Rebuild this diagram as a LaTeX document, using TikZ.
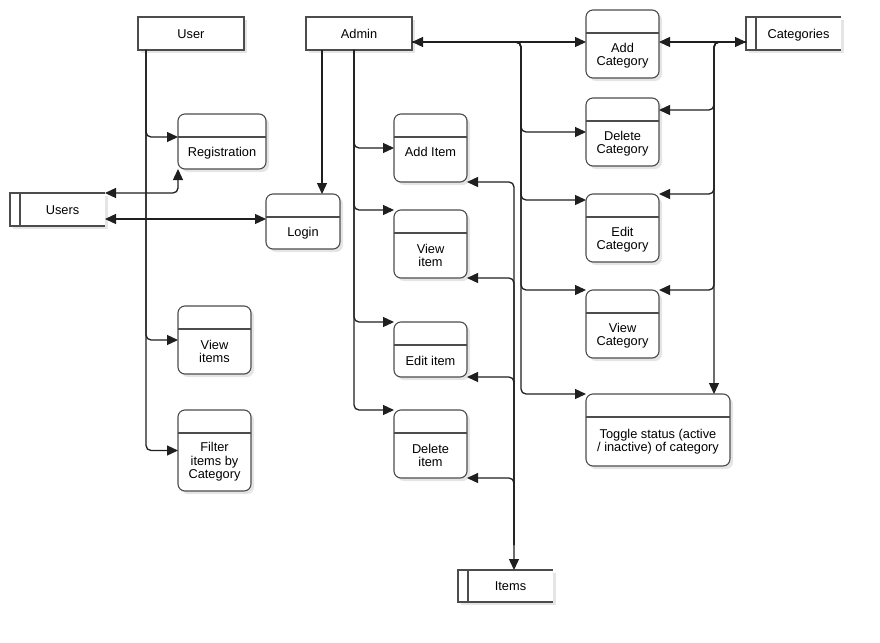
\documentclass[tikz,border=0pt]{standalone}
\usepackage{fontspec}
\setmainfont{Liberation Sans}
\usetikzlibrary{arrows.meta,shadows}
\newcommand\procbox[7][-11.5]{%
  \node[proc, minimum width=#5pt, minimum height=#6pt] (#2) at (#3,#4) {};
  \draw[hdr] ([yshift=-23pt]#2.north west) -- ([yshift=-23pt]#2.north east);
  \node[ptext] (#2-t) at ([yshift=#1pt]#2.center) {#7};}
\newcommand\storebox[6]{%
  \node[store, minimum width=#4pt, minimum height=#5pt] (#1) at (#2,#3) {};
  \draw[hdr] (#1.north east) -- (#1.north west) -- (#1.south west) -- (#1.south east)
    ([xshift=10pt]#1.north west) -- ([xshift=10pt]#1.south west);
  \node[ptext, text height=9.2pt, text depth=0pt] (#1-t) at ([xshift=5pt]#1.center) {#6};}
\begin{document}
\begin{tikzpicture}[x=1pt,y=-1pt,
  font=\fontsize{12.8}{13.4}\selectfont,
  shad/.style={drop shadow={shadow xshift=3pt,shadow yshift=-3pt,fill=black,opacity=0.1}},
  box/.style={draw=black!70, line width=1.1pt, fill=white, outer sep=0pt, inner sep=0pt, shad},
  ent/.style={box, text height=9.2pt, text depth=0pt},
  proc/.style={box, rounded corners=7pt},
  store/.style={fill=white, outer sep=0pt, inner sep=0pt, shad},
  hdr/.style={draw=black!70, line width=1.1pt},
  ptext/.style={align=center, inner sep=0pt},
  tip/.tip={Triangle[length=11pt,width=10pt]},
  conn/.style={draw=black!88, line width=1.3pt, rounded corners=5pt, -tip},
  biconn/.style={conn, tip-tip}]
\useasboundingbox (0,0) rectangle (880,642);

% external entities
\node[ent, minimum width=106pt, minimum height=33pt] (user) at (191,33.5) {User};
\node[ent, minimum width=106pt, minimum height=33pt] (admin) at (359,33.5) {Admin};

% data stores
\storebox{users}{57.5}{209.5}{95}{33}{Users}
\storebox{cats}{793.5}{33.5}{95}{33}{Categories}
\storebox{items}{505.5}{586}{95}{32}{Items}

% processes
\procbox{reg}{222}{141.5}{88}{55}{Registration}
\procbox{login}{303}{221.5}{74}{55}{Login}
\procbox{vitems}{214.5}{340}{73}{68}{View\\items}
\procbox{filter}{214.5}{450.5}{73}{81}{Filter\\items by\\Category}
\procbox[-4]{additem}{430.5}{148}{73}{68}{Add Item}
\procbox{viewitem}{430.5}{244}{73}{68}{View\\item}
\procbox{edititem}{430.5}{349.5}{73}{55}{Edit item}
\procbox{delitem}{430.5}{444}{73}{68}{Delete\\item}
\procbox{addcat}{622.5}{44}{73}{68}{Add\\Category}
\procbox{delcat}{622.5}{132}{73}{68}{Delete\\Category}
\procbox{editcat}{622.5}{228}{73}{68}{Edit\\Category}
\procbox{viewcat}{622.5}{324}{73}{68}{View\\Category}
\procbox{toggle}{658}{430}{144}{72}{Toggle status (active\\/ inactive) of category}

% User flows
\draw[conn] ([xshift=8pt]user.south west) |- ([yshift=-23pt]reg.north west);
\draw[conn] ([xshift=8pt]user.south west) |- (vitems.west);
\draw[conn] ([xshift=8pt]user.south west) |- (filter.west);
\draw[biconn] (users.north east) -| (reg.south west);
\draw[biconn] ([yshift=-9.5pt]users.east) -- ([yshift=-9.5pt]users.east -| login.west);

% Admin flows
\draw[conn] ([xshift=16pt]admin.south west) -- ([xshift=16pt]admin.south west |- login.north);
\draw[conn] ([xshift=48pt]admin.south west) |- (additem.west);
\draw[conn] ([xshift=48pt]admin.south west) |- (viewitem.north west);
\draw[conn] ([xshift=48pt]admin.south west) |- (edititem.north west);
\draw[conn] ([xshift=48pt]admin.south west) |- (delitem.north west);

\coordinate (b1) at (521,42);
\draw[biconn] ([yshift=-8.5pt]admin.east) -- ([yshift=-8.5pt]admin.east -| addcat.west);
\draw[conn] ([yshift=-8.5pt]admin.east) -- (b1) |- (delcat.west);
\draw[conn] ([yshift=-8.5pt]admin.east) -- (b1) |- ([yshift=-6pt]editcat.north west);
\draw[conn] ([yshift=-8.5pt]admin.east) -- (b1) |- (viewcat.north west);
\draw[conn] ([yshift=-8.5pt]admin.east) -- (b1) |- (toggle.north west);

% Categories flows
\coordinate (b2) at (714,42);
\draw[biconn] ([yshift=-8.5pt]cats.west) -- ([yshift=-8.5pt]cats.west -| addcat.east);
\draw[conn] ([yshift=-8.5pt]cats.west) -- (b2) |- ([yshift=-12pt]delcat.north east);
\draw[conn] ([yshift=-8.5pt]cats.west) -- (b2) |- (editcat.north east);
\draw[conn] ([yshift=-8.5pt]cats.west) -- (b2) |- (viewcat.north east);
\draw[conn] ([yshift=-8.5pt]cats.west) -- (b2) -- (b2 |- toggle.north);

% Items flows
\coordinate (b3) at (514,182);
\coordinate (b3b) at (514,545);
\draw[biconn] (additem.south east) -- (b3) -- (b3 |- items.north);
\draw[conn] (b3b) |- (viewitem.south east);
\draw[conn] (b3b) |- (edititem.south east);
\draw[conn] (b3b) |- (delitem.south east);
\end{tikzpicture}
\end{document}
